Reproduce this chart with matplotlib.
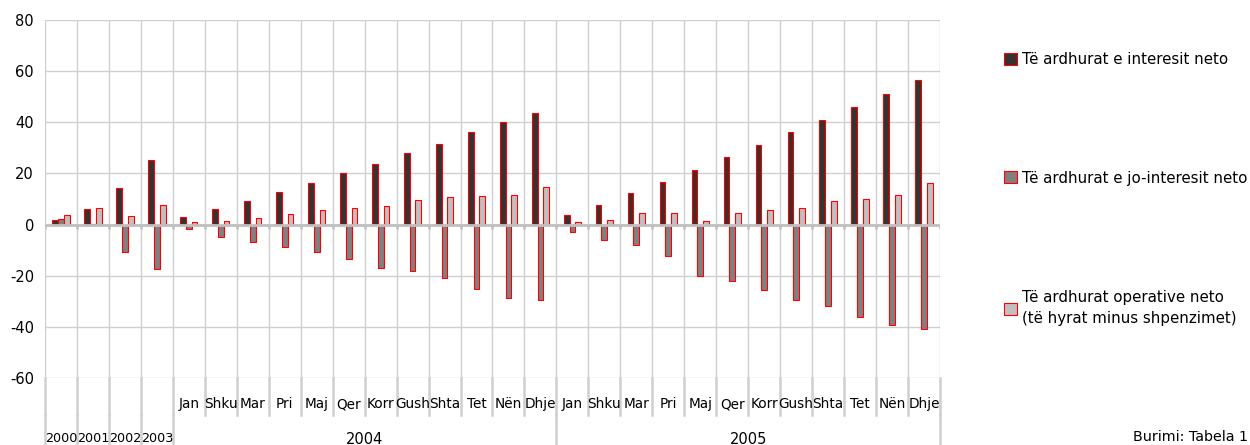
import numpy as np
import matplotlib
matplotlib.use('Agg')
import matplotlib.pyplot as plt
from matplotlib.patches import Patch

plt.rcParams['axes.unicode_minus'] = False

# Etiketat e kategorive
years_single = ['2000', '2001', '2002', '2003']
months = ['Jan', 'Shku', 'Mar', 'Pri', 'Maj', 'Qer', 'Korr', 'Gush', 'Shta', 'Tet', 'Nën', 'Dhje']
years_monthly = ['2004', '2005']

# Seritë (lexuar nga grafiku)
interes = [1.8, 6.0, 14.3, 25.2,
           2.9, 6.0, 9.2, 12.7, 16.2, 20.0, 23.8, 27.8, 31.7, 36.2, 40.3, 43.8,
           3.9, 7.8, 12.4, 16.5, 21.5, 26.4, 31.3, 36.2, 40.9, 45.9, 50.9, 56.7]
jo_interes = [2.3, 0.3, -10.7, -17.4,
              -1.8, -4.7, -6.8, -8.7, -10.9, -13.4, -16.8, -18.3, -21.0, -25.1, -28.8, -29.4,
              -3.0, -5.9, -7.9, -12.1, -20.3, -22.0, -25.6, -29.5, -31.9, -36.0, -39.2, -40.7]
operative = [3.9, 6.5, 3.5, 7.8,
             1.0, 1.3, 2.6, 4.0, 5.6, 6.5, 7.2, 9.6, 10.8, 11.2, 11.7, 14.6,
             1.0, 1.8, 4.6, 4.4, 1.3, 4.6, 5.7, 6.6, 9.1, 10.0, 11.7, 16.1]

series_names = ['Të ardhurat e interesit neto',
                'Të ardhurat e jo-interesit neto',
                'Të ardhurat operative neto\n(të hyrat minus shpenzimet)']
colors = ['#333333', '#808080', '#c0c0c0']

n = len(interes)
x = np.arange(n)
w = 0.18
grid_c = '#cfcfcf'

fig = plt.figure(figsize=(12.5, 4.45), dpi=100)
ax = fig.add_axes([45/1250, 1 - 378/445, 895/1250, 358/445])

# rrjeti
for yv in range(-60, 81, 20):
    ax.axhline(yv, color=grid_c, lw=1.0, zorder=0)
bounds = np.arange(-0.5, n, 1.0)
ax.vlines(bounds, -60, 80, color=grid_c, lw=1.0, zorder=0)

for i, (vals, c) in enumerate(zip([interes, jo_interes, operative], colors)):
    ax.bar(x + (i - 1) * w, vals, width=w, color=c, edgecolor='#ff0000', linewidth=0.8, zorder=2)

# boshti x tek 0
ax.axhline(0, color='#c0c0c0', lw=2.0, zorder=3)
ax.vlines(bounds, -1.8, 0, color='#c0c0c0', lw=1.8, zorder=3)

ax.set_xlim(-0.5, n - 0.5)
ax.set_ylim(-60, 80)
ax.set_yticks(range(-60, 81, 20))
ax.set_xticks([])
ax.tick_params(axis='y', length=0, labelsize=10.5, pad=8)
for s in ax.spines.values():
    s.set_visible(False)

# etiketat shumënivelëshe të kategorive
trans = ax.get_xaxis_transform()
y_row1 = -37 / 358
y_bot = -67 / 358
n_single = len(years_single)
for b in bounds:
    ax.plot([b, b], [0, y_row1], transform=trans, color=grid_c, lw=1.8, clip_on=False)
year_bounds = list(np.arange(-0.5, n_single, 1.0)) + [n_single - 0.5 + 12 * k for k in range(1, len(years_monthly) + 1)]
for b in year_bounds:
    ax.plot([b, b], [y_row1, y_bot], transform=trans, color=grid_c, lw=1.8, clip_on=False)

for k, lab in enumerate(years_single):
    ax.text(k, -61 / 358, lab, transform=trans, ha='center', va='center', fontsize=9.2)
for j, yl in enumerate(years_monthly):
    start = n_single + 12 * j
    for m, lab in enumerate(months):
        ax.text(start + m, -26 / 358, lab, transform=trans, ha='center', va='center', fontsize=9.8)
    ax.text(start + 5.5, -61 / 358, yl, transform=trans, ha='center', va='center', fontsize=10.5)

# legjenda: tri hyrje të ndara
leg_y = [60, 178, 308]
for name, c, yy in zip(series_names, colors, leg_y):
    h = Patch(facecolor=c, edgecolor='#ff0000', linewidth=0.8)
    leg = fig.legend([h], [name], loc='center left', bbox_to_anchor=(1004/1250, 1 - yy/445),
                     frameon=False, fontsize=10.8, handlelength=0.85, handleheight=0.85,
                     handletextpad=0.35, borderaxespad=0, borderpad=0)
    for t in leg.get_texts():
        t.set_linespacing(1.45)

fig.text(1133/1250, 1 - 437/445, 'Burimi: Tabela 1', fontsize=10.3, va='center', ha='left')

fig.savefig('out.png', dpi=100)
